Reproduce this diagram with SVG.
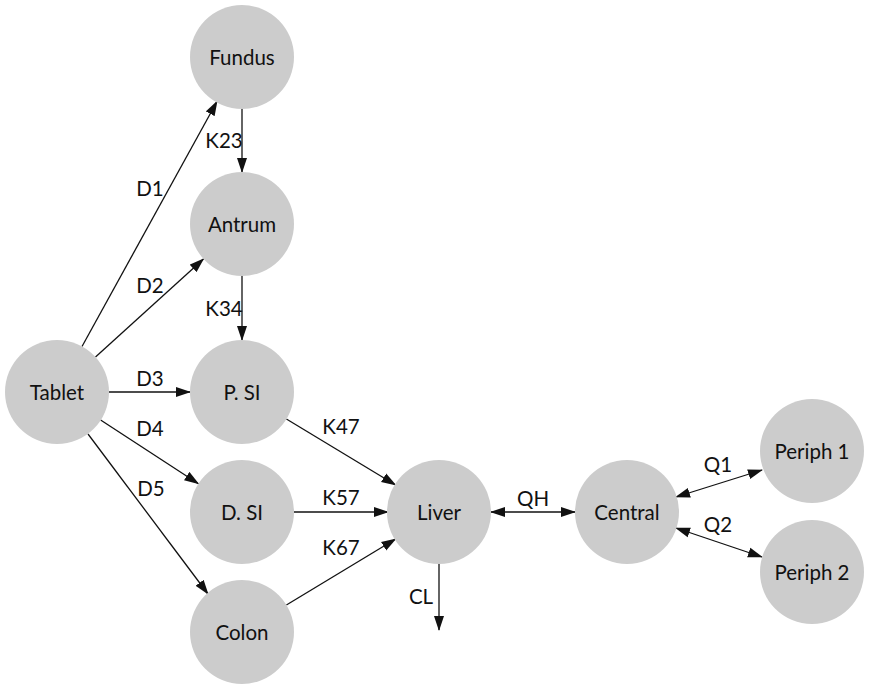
<svg xmlns="http://www.w3.org/2000/svg" width="870" height="690" viewBox="0 0 870 690">
<defs>
<marker id="arr" markerUnits="userSpaceOnUse" markerWidth="15" markerHeight="11" refX="14" refY="5" orient="auto-start-reverse" viewBox="0 0 15 10">
<path d="M0,0 L15,5 L0,10 z" fill="#111"/>
</marker>
<style>
.node circle { fill: #cccccc; }
text { font-family: Lato, "Noto Sans", "Liberation Sans", sans-serif; font-size: 20.5px; fill: #111; text-anchor: middle; dominant-baseline: central; }
.edges line { stroke: #111; stroke-width: 1.3; marker-end: url(#arr); }
.edges line.both { marker-start: url(#arr); }
</style>
</defs>
<rect width="870" height="690" fill="#ffffff"/>
<g id="connectors" class="edges">
<line x1="82" y1="346.5" x2="217" y2="101.5"/>
<line x1="95.5" y1="357" x2="203.5" y2="259"/>
<line x1="109" y1="392" x2="190" y2="392"/>
<line x1="100.6" y1="420" x2="198.4" y2="483.7"/>
<line x1="88" y1="434" x2="208" y2="594"/>
<line x1="242" y1="109" x2="242" y2="172"/>
<line x1="242" y1="276" x2="242" y2="340"/>
<line x1="286.4" y1="419" x2="395.6" y2="485"/>
<line x1="294" y1="512" x2="388" y2="512"/>
<line x1="286.4" y1="605" x2="395.6" y2="539"/>
<line class="both" x1="491" y1="512" x2="575" y2="512"/>
<line x1="439" y1="564" x2="439" y2="630"/>
<line class="both" x1="676" y1="497" x2="762" y2="470"/>
<line class="both" x1="676" y1="528" x2="762" y2="557"/>
<text x="150" y="188">D1</text>
<text x="150" y="285">D2</text>
<text x="150" y="378">D3</text>
<text x="150" y="428">D4</text>
<text x="151" y="488">D5</text>
<text x="224" y="140">K23</text>
<text x="224" y="308">K34</text>
<text x="341" y="426">K47</text>
<text x="341" y="497">K57</text>
<text x="341" y="547">K67</text>
<text x="533" y="498">QH</text>
<text x="421" y="596">CL</text>
<text x="718" y="464">Q1</text>
<text x="718" y="524">Q2</text>
</g>
<g id="tablet" class="node"><circle cx="57" cy="392" r="52"/><text x="57" y="392">Tablet</text></g>
<g id="fundus" class="node"><circle cx="242" cy="57" r="52"/><text x="242" y="57">Fundus</text></g>
<g id="antrum" class="node"><circle cx="242" cy="224" r="52"/><text x="242" y="224">Antrum</text></g>
<g id="psi" class="node"><circle cx="242" cy="392" r="52"/><text x="242" y="392">P. SI</text></g>
<g id="dsi" class="node"><circle cx="242" cy="512" r="52"/><text x="242" y="512">D. SI</text></g>
<g id="colon" class="node"><circle cx="242" cy="632" r="52"/><text x="242" y="632">Colon</text></g>
<g id="liver" class="node"><circle cx="439" cy="512" r="52"/><text x="439" y="512">Liver</text></g>
<g id="central" class="node"><circle cx="627" cy="512" r="52"/><text x="627" y="512">Central</text></g>
<g id="periph1" class="node"><circle cx="812" cy="451" r="52"/><text x="812" y="451">Periph 1</text></g>
<g id="periph2" class="node"><circle cx="812" cy="572" r="52"/><text x="812" y="572">Periph 2</text></g>
</svg>
